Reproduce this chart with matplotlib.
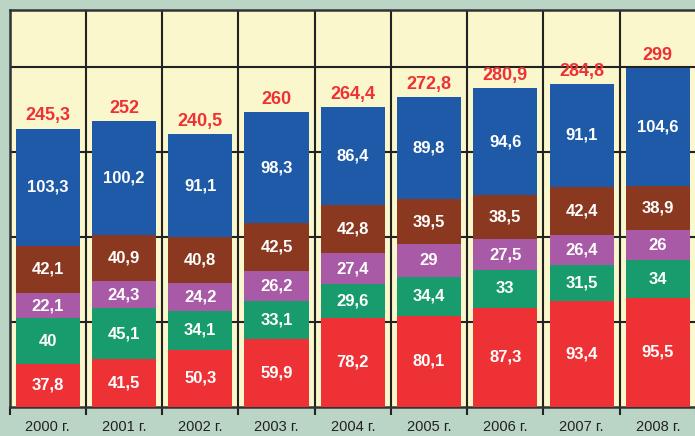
import matplotlib
matplotlib.use("Agg")
from matplotlib import pyplot as plt
import numpy as np

years = ["2000 г.", "2001 г.", "2002 г.", "2003 г.", "2004 г.",
         "2005 г.", "2006 г.", "2007 г.", "2008 г."]
red = [37.8, 41.5, 50.3, 59.9, 78.2, 80.1, 87.3, 93.4, 95.5]
green = [40, 45.1, 34.1, 33.1, 29.6, 34.4, 33, 31.5, 34]
purple = [22.1, 24.3, 24.2, 26.2, 27.4, 29, 27.5, 26.4, 26]
brown = [42.1, 40.9, 40.8, 42.5, 42.8, 39.5, 38.5, 42.4, 38.9]
blue = [103.3, 100.2, 91.1, 98.3, 86.4, 89.8, 94.6, 91.1, 104.6]
totals = [245.3, 252, 240.5, 260, 264.4, 272.8, 280.9, 284.8, 299]

series = [red, green, purple, brown, blue]
colors = ["#ee3135", "#189c6e", "#a95aa6", "#8b3820", "#1e5aa8"]


def fmt(v):
    if float(v).is_integer():
        return str(int(v))
    return ("%.1f" % v).replace(".", ",")


plt.rcParams["font.family"] = ["Liberation Sans", "DejaVu Sans"]

fig = plt.figure(figsize=(6.95, 4.36), dpi=100, facecolor="#bad5c6")
ax = fig.add_axes([9.5 / 695, 29.5 / 436, 686.5 / 695, 396.5 / 436])
ax.set_facecolor("#faf7cc")

x = np.arange(len(years))
bottom = np.zeros(len(years))
for vals, c in zip(series, colors):
    ax.bar(x, vals, 0.84, bottom=bottom, color=c, zorder=3)
    for xi, b, v in zip(x, bottom, vals):
        ax.text(xi, b + v / 2, fmt(v), ha="center", va="center", color="white",
                fontsize=12, fontweight="bold", zorder=4)
    bottom += np.array(vals)

for xi, b, t in zip(x, bottom, totals):
    ax.annotate(fmt(t), (xi, b), xytext=(0, 3), textcoords="offset points",
                ha="center", va="bottom", color="#ee3135", fontsize=13,
                fontweight="bold", zorder=4)

ax.set_xlim(-0.5, len(years) - 0.5)
ax.set_ylim(0, 350)

ax.set_yticks([75, 150, 225, 300])
ax.set_yticklabels([])
ax.tick_params(axis="y", length=0)
ax.set_xticks(x)
ax.set_xticklabels(years, fontsize=10.5, color="#222222")
ax.tick_params(axis="x", length=0, pad=10)
ax.set_xticks(np.arange(len(years) + 1) - 0.5, minor=True)
ax.tick_params(axis="x", which="minor", length=6, width=1.5, color="#222222",
               direction="out")

ax.grid(True, axis="y", color="#222222", linewidth=1.5, zorder=1)
ax.grid(True, axis="x", which="minor", color="#222222", linewidth=1.5, zorder=1)
ax.grid(False, axis="x", which="major")
ax.set_axisbelow(True)

for s in ax.spines.values():
    s.set_color("#333333")
    s.set_linewidth(1.8)

fig.savefig("out.png", dpi=100, facecolor=fig.get_facecolor())
